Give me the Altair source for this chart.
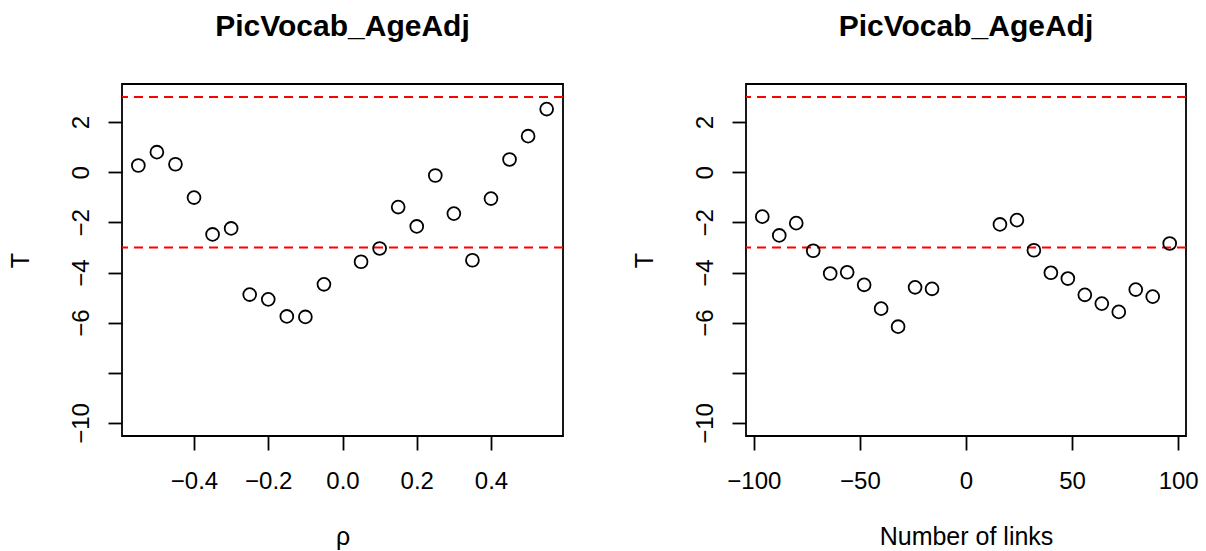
import altair as alt
import pandas as pd

# ---- data ----
rho = [-0.55, -0.50, -0.45, -0.40, -0.35, -0.30, -0.25, -0.20, -0.15, -0.10, -0.05,
       0.05, 0.10, 0.15, 0.20, 0.25, 0.30, 0.35, 0.40, 0.45, 0.50, 0.55]
t_rho = [0.27, 0.80, 0.32, -1.01, -2.48, -2.24, -4.88, -5.07, -5.75, -5.77, -4.47,
         -3.57, -3.04, -1.39, -2.16, -0.13, -1.65, -3.51, -1.05, 0.51, 1.44, 2.52]

links = [-96, -88, -80, -72, -64, -56, -48, -40, -32, -24, -16,
         16, 24, 32, 40, 48, 56, 64, 72, 80, 88, 96]
t_links = [-1.77, -2.52, -2.03, -3.13, -4.04, -3.99, -4.49, -5.44, -6.16, -4.59, -4.65,
           -2.08, -1.91, -3.11, -4.01, -4.24, -4.89, -5.24, -5.57, -4.68, -4.96, -2.84]

thresholds = [-3, 3]
y_ticks = [-10, -8, -6, -4, -2, 0, 2]
rho_ticks = [-0.4, -0.2, 0.0, 0.2, 0.4]
link_ticks = [-100, -50, 0, 50, 100]
panel_title = "PicVocab_AgeAdj"

FONT = "Liberation Sans"
W_L, W_R, H = 441, 440, 352
Y_DOMAIN = [-10.52, 3.52]

df_rho = pd.DataFrame({"x": rho, "T": t_rho})
df_links = pd.DataFrame({"x": links, "T": t_links})
df_thr = pd.DataFrame({"T": thresholds})


def y_enc():
    return alt.Y(
        "T:Q",
        scale=alt.Scale(domain=Y_DOMAIN, nice=False, zero=False),
        axis=alt.Axis(
            values=y_ticks,
            labelExpr="datum.value == -8 ? '' : datum.label",
            labelAngle=270,
            labelAlign="center",
            labelBaseline="alphabetic",
            labelPadding=20,
            tickSize=14,
            title="T",
            titleAngle=270,
            titleAlign="center",
            titleBaseline="alphabetic",
            titleX=-94,
            titleY=H / 2,
        ),
    )


def panel(df, domain, ticks, fmt, xtitle, width):
    x = alt.X(
        "x:Q",
        scale=alt.Scale(domain=domain, nice=False, zero=False),
        axis=alt.Axis(
            values=ticks,
            format=fmt,
            tickSize=14,
            labelBaseline="alphabetic",
            labelPadding=38,
            title=xtitle,
            titleBaseline="alphabetic",
            titleX=width / 2,
            titleY=108,
        ),
    )
    rules = alt.Chart(df_thr).mark_rule(
        color="#FF0000", strokeDash=[9, 6], strokeWidth=2
    ).encode(y=y_enc())
    pts = alt.Chart(df).mark_point(
        shape="circle", filled=False, size=165, color="black", strokeWidth=1.8, opacity=1
    ).encode(x=x, y=y_enc())
    return alt.layer(rules, pts).properties(
        width=width,
        height=H,
        title=alt.Title(
            panel_title,
            font=FONT,
            fontSize=30,
            fontWeight="bold",
            color="black",
            anchor="middle",
            baseline="alphabetic",
            offset=18,
        ),
    )


left = panel(df_rho, [-0.594, 0.594], rho_ticks, ".1f", "ρ", W_L)
right = panel(df_links, [-103.68, 103.68], link_ticks, "d", "Number of links", W_R)

chart = (
    alt.hconcat(left, right, spacing=183, bounds="flush")
    .properties(padding={"left": 7, "top": 11, "right": 0, "bottom": 0}, background="white")
    .configure_view(stroke="black", strokeWidth=1.8)
    .configure_axis(
        grid=False,
        domain=False,
        labelFont=FONT,
        titleFont=FONT,
        labelFontSize=24,
        titleFontSize=25,
        titleFontWeight="normal",
        labelColor="black",
        titleColor="black",
        tickColor="black",
        tickWidth=1.8,
    )
)

chart.save("out.html", embed_options={"renderer": "svg", "actions": False})
